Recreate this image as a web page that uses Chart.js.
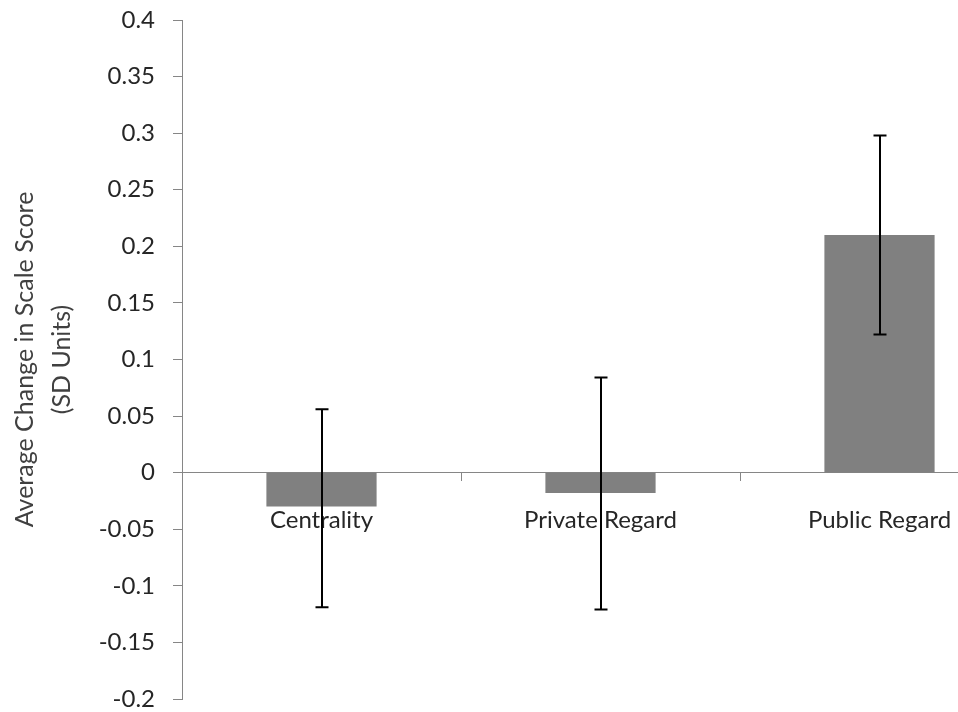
<!DOCTYPE html>
<html>
<head>
<meta charset="utf-8">
<script src="https://cdn.jsdelivr.net/npm/chart.js@4/dist/chart.umd.min.js"></script>
<style>
  html, body { margin: 0; padding: 0; background: #ffffff; overflow: hidden; }
  #wrap { position: relative; width: 1030px; height: 712px; }
</style>
</head>
<body>
<div id="wrap"><canvas id="c"></canvas></div>
<script>
const categories = ['Centrality', 'Private Regard', 'Public Regard'];
const meanChange = [-0.030, -0.018, 0.210];
const errorHigh = [0.056, 0.084, 0.298];
const errorLow = [-0.119, -0.121, 0.122];
const yTitle = ['Average Change in Scale Score', '(SD Units)'];

const FONT = 'Lato, "Open Sans", sans-serif';

const errorBarPlugin = {
  id: 'errorBars',
  afterDatasetsDraw(chart) {
    const ctx = chart.ctx;
    const meta = chart.getDatasetMeta(0);
    const y = chart.scales.y;
    ctx.save();
    ctx.strokeStyle = '#000000';
    ctx.lineWidth = 2;
    meta.data.forEach((bar, i) => {
      const x = Math.round(bar.x);
      const yh = y.getPixelForValue(errorHigh[i]);
      const yl = y.getPixelForValue(errorLow[i]);
      ctx.beginPath();
      ctx.moveTo(x, yh);
      ctx.lineTo(x, yl);
      ctx.moveTo(x - 6.5, yh);
      ctx.lineTo(x + 6.5, yh);
      ctx.moveTo(x - 6.5, yl);
      ctx.lineTo(x + 6.5, yl);
      ctx.stroke();
    });
    ctx.restore();
  }
};

new Chart(document.getElementById('c'), {
  type: 'bar',
  data: {
    labels: categories,
    datasets: [{
      data: meanChange,
      backgroundColor: '#808080',
      borderWidth: 0,
      categoryPercentage: 1.0,
      barPercentage: 0.395
    }]
  },
  options: {
    responsive: true,
    maintainAspectRatio: false,
    animation: false,
    layout: { padding: { top: 20, right: 11, bottom: 13, left: 0 } },
    plugins: {
      legend: { display: false },
      tooltip: { enabled: false }
    },
    scales: {
      x: {
        position: { y: 0 },
        offset: true,
        afterFit: (s) => { s.paddingLeft = 0; s.paddingRight = 0; },
        grid: {
          offset: true,
          drawOnChartArea: false,
          drawTicks: true,
          tickLength: 8,
          color: '#868686',
          lineWidth: 1
        },
        border: { display: true, color: '#868686', width: 1 },
        ticks: {
          color: '#262626',
          font: { family: FONT, size: 24 },
          padding: 25,
          maxRotation: 0
        }
      },
      y: {
        min: -0.2,
        max: 0.4,
        afterFit: (s) => { s.width = 182; s.paddingTop = 0; s.paddingBottom = 0; },
        grid: {
          drawOnChartArea: false,
          drawTicks: true,
          tickLength: 9,
          color: '#868686'
        },
        border: { display: true, color: '#868686', width: 1 },
        ticks: {
          stepSize: 0.05,
          color: '#262626',
          font: { family: FONT, size: 24 },
          padding: 18,
          callback: (v) => {
            const r = Math.round(v * 100) / 100;
            return r === 0 ? '0' : String(r);
          }
        },
        title: {
          display: true,
          text: yTitle,
          color: '#404040',
          font: { family: FONT, size: 25, lineHeight: 1.48 },
          padding: { top: 6, bottom: 0 }
        }
      }
    }
  },
  plugins: [errorBarPlugin]
});
</script>
</body>
</html>
